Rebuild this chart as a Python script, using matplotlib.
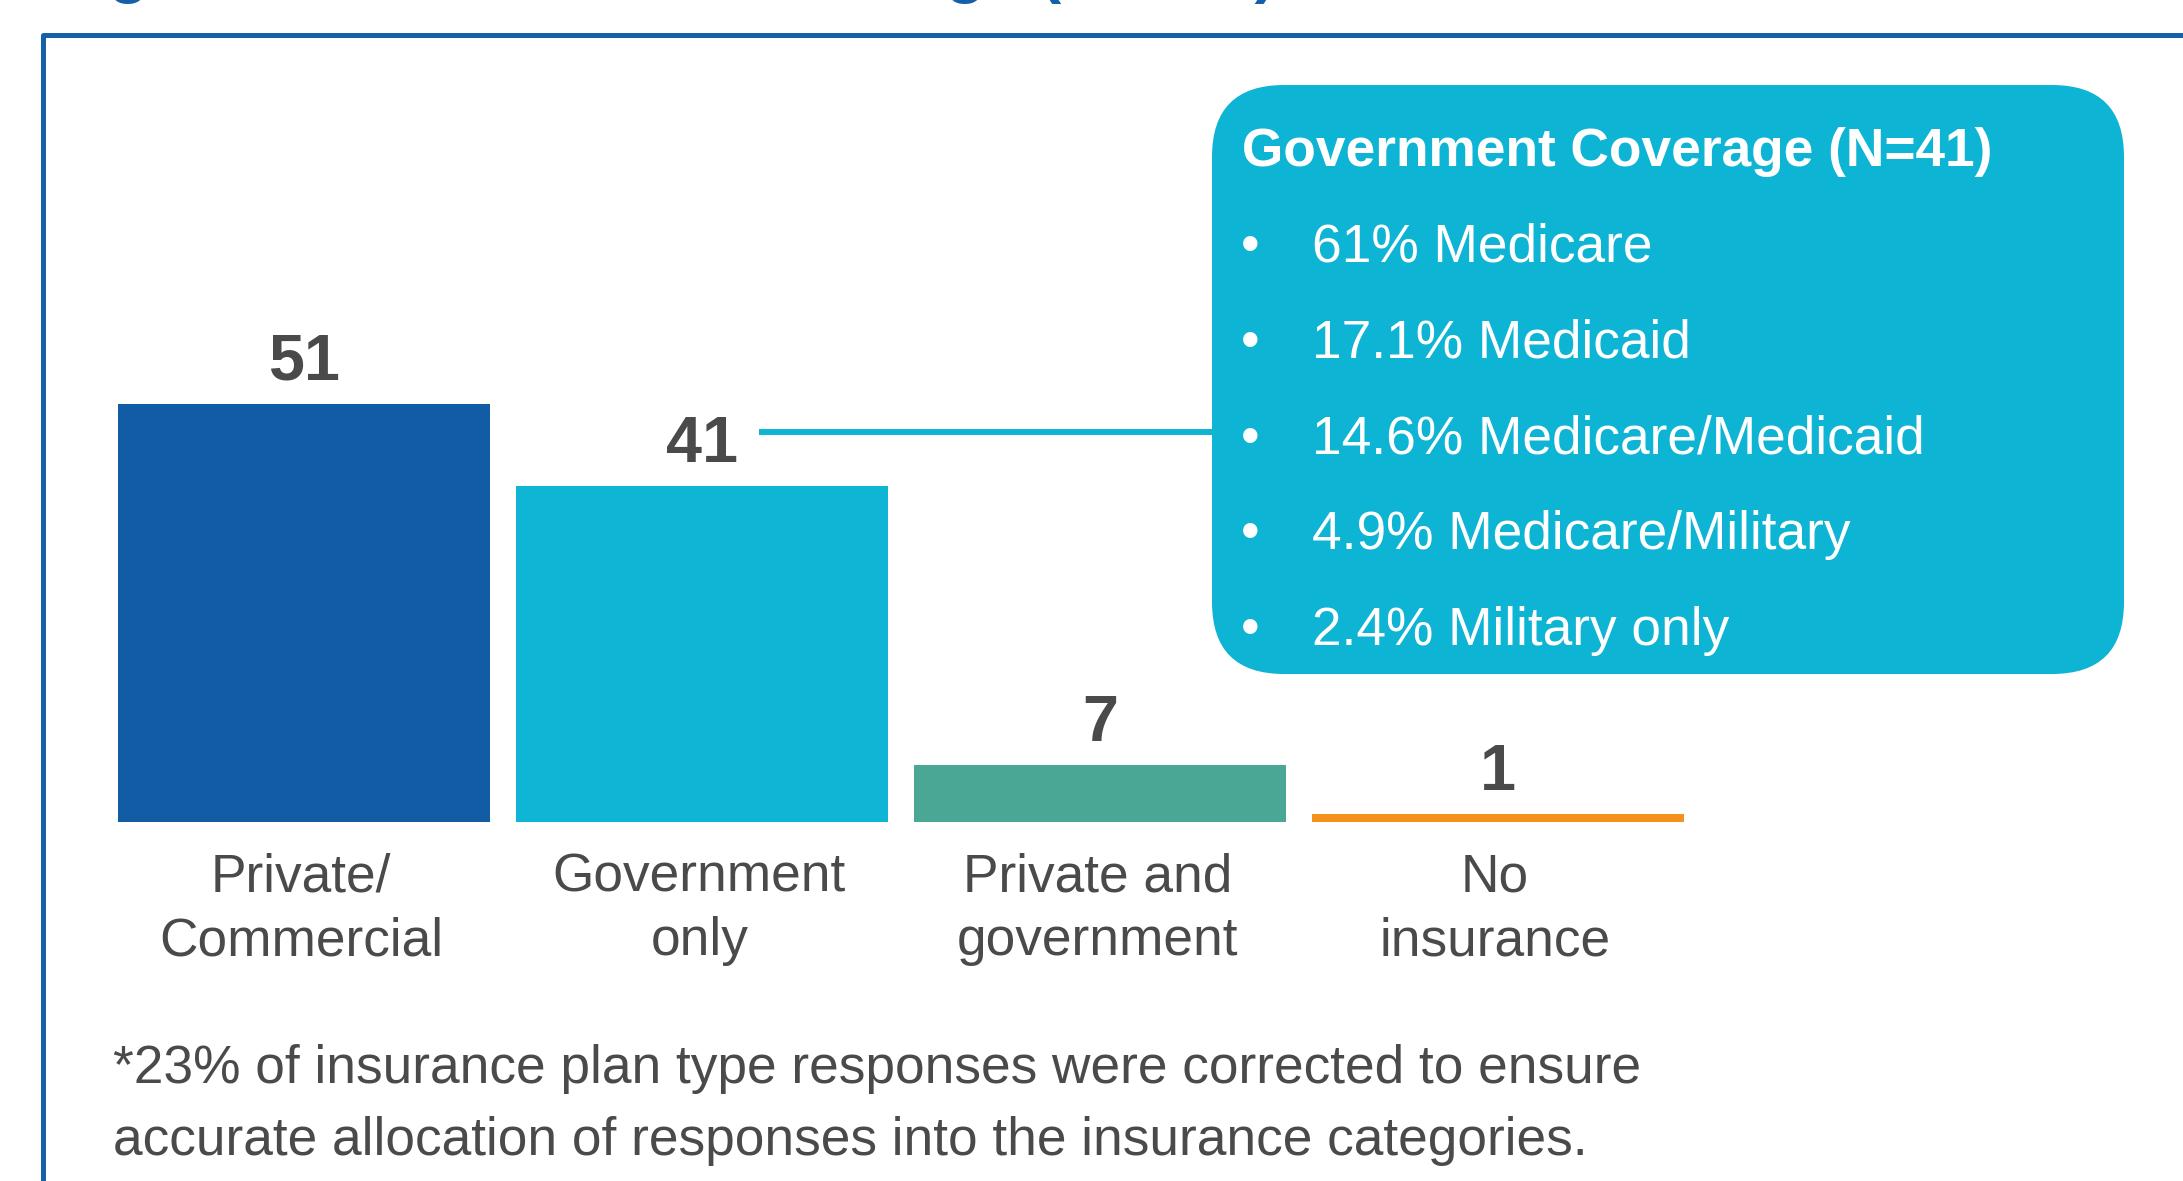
import matplotlib
matplotlib.use("Agg")
import matplotlib.pyplot as plt
from matplotlib.patches import FancyBboxPatch

plt.rcParams['font.family'] = ['Liberation Sans', 'DejaVu Sans']

# ---- data ----
categories = ["Private/\nCommercial", "Government\nonly", "Private and\ngovernment", "No\ninsurance"]
values = [51, 41, 7, 1]
bar_colors = ["#125CA6", "#0EB5D5", "#4BA795", "#F4901C"]
gov_title = "Government Coverage (N=41)"
gov_pcts = [61, 17.1, 14.6, 4.9, 2.4]
gov_types = ["Medicare", "Medicaid", "Medicare/Medicaid", "Medicare/Military", "Military only"]
footnote_lines = ["*23% of insurance plan type responses were corrected to ensure",
                  "accurate allocation of responses into the insurance categories."]
title_left = "Figure 3:"
title_right = "Insurance Coverage (N=100)"

TEXT = "#4A4A4A"
BLUE = "#1560A8"
CYAN = "#0EB4D4"

W, H = 2183, 1181
fig = plt.figure(figsize=(W / 100, H / 100), dpi=100)

# overlay axes in pixel coordinates (y down)
ov = fig.add_axes([0, 0, 1, 1], zorder=0)
ov.set_xlim(0, W)
ov.set_ylim(H, 0)
ov.axis('off')

# main bar axes
bw = 0.935
left_px, right_px, base_px = 118, 1684, 822
ymax = 60
unit_px = 8.2
ax = fig.add_axes([left_px / W, (H - base_px) / H, (right_px - left_px) / W, ymax * unit_px / H], zorder=1)
ax.patch.set_alpha(0)
x = list(range(len(categories)))
ax.bar(x, values, width=bw, color=bar_colors, edgecolor='none')
ax.set_xlim(-bw / 2, len(categories) - 1 + bw / 2)
ax.set_ylim(0, ymax)
ax.axis('off')

for i, v in enumerate(values):
    ax.annotate(str(v), xy=(i, v), xytext=(0, 24 * 0.72), textcoords='offset points',
                ha='center', va='baseline', fontsize=46.5, fontweight='bold', color=TEXT)
    for k, line in enumerate(categories[i].split("\n")):
        ax.annotate(line, xy=(i, 0), xytext=(-2, -(70 + 63 * k) * 0.72), textcoords='offset points',
                    ha='center', va='baseline', fontsize=38.3, color=TEXT, annotation_clip=False)

# border frame
ov.plot([42.5, 42.5, W + 20], [H + 20, 34.5, 34.5], color=BLUE, lw=3.6,
        solid_joinstyle='round', clip_on=True)

# cut-off title (only descenders visible in the reference)
ov.text(50.6, -8.7, title_left, fontsize=46.8, fontweight='bold', color=BLUE,
        ha='left', va='baseline')
ov.text(1276, -8.7, title_right, fontsize=46.8, fontweight='bold', color=BLUE,
        ha='right', va='baseline')

# callout box
box = FancyBboxPatch((1212, 85), 912, 589, boxstyle='round,pad=0,rounding_size=72',
                     fc=CYAN, ec='none')
ov.add_patch(box)
ov.plot([759, 1213], [432, 432], color=CYAN, lw=4.3, solid_capstyle='butt')

ov.text(1242, 166, gov_title, fontsize=38.3, fontweight='bold', color='white',
        ha='left', va='baseline')
for k, (p, t) in enumerate(zip(gov_pcts, gov_types)):
    yb = 262 + 95.8 * k
    ov.text(1241, yb, "\u2022", fontsize=38.3, color='white', ha='left', va='baseline')
    ov.text(1312, yb, f"{p:g}% {t}", fontsize=38.3, color='white', ha='left', va='baseline')

# footnote
for k, line in enumerate(footnote_lines):
    ov.text(113, 1083 + 72 * k, line, fontsize=38.3, color=TEXT, ha='left', va='baseline')

fig.savefig("out.png", dpi=100)
